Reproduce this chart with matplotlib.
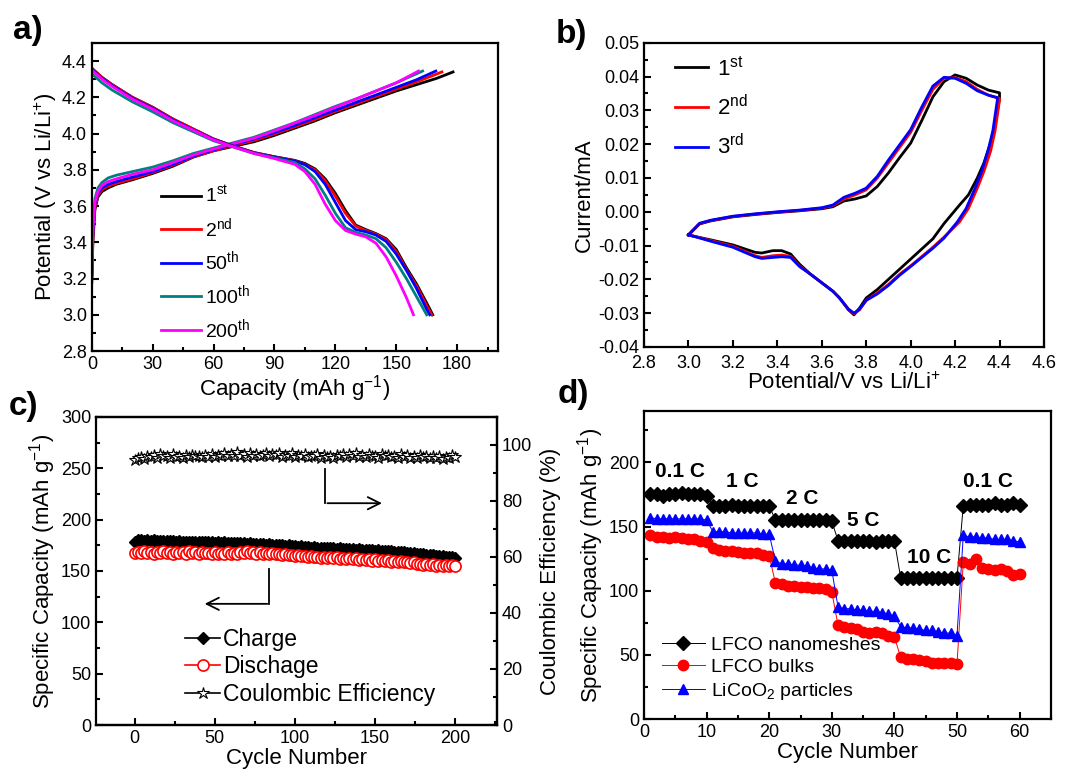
import numpy as np
import matplotlib
matplotlib.use("Agg")
import matplotlib.pyplot as plt
from matplotlib.ticker import MultipleLocator, FormatStrFormatter

plt.rcParams["font.family"] = ["Liberation Sans", "DejaVu Sans"]
plt.rcParams["mathtext.fontset"] = "custom"
plt.rcParams["mathtext.rm"] = "Liberation Sans"
plt.rcParams["mathtext.it"] = "Liberation Sans:italic"
plt.rcParams["mathtext.bf"] = "Liberation Sans:bold"
plt.rcParams["mathtext.default"] = "regular"

# ---------------- panel a: charge / discharge profiles ----------------
cycle_labels_a = [r"1$^{st}$", r"2$^{nd}$", r"50$^{th}$", r"100$^{th}$", r"200$^{th}$"]
colors_a = ["black", "red", "blue", "#008080", "magenta"]

chg_cap_1 = [0, 0.5, 1.5, 3, 5, 8, 12, 20, 30, 40, 50, 60, 70, 80, 90, 100, 110, 120, 130, 140, 150, 160, 170, 178]
chg_pot_1 = [3.18, 3.40, 3.58, 3.65, 3.68, 3.70, 3.72, 3.745, 3.78, 3.82, 3.87, 3.905, 3.93, 3.955, 3.99, 4.03, 4.07, 4.115, 4.155, 4.195, 4.235, 4.27, 4.305, 4.34]
chg_cap_2 = [0, 0.5, 1.5, 3, 5, 8, 12, 20, 30, 40, 50, 60, 70, 80, 90, 100, 110, 120, 130, 140, 150, 160, 172.5]
chg_pot_2 = [3.20, 3.42, 3.59, 3.66, 3.69, 3.71, 3.725, 3.75, 3.785, 3.825, 3.872, 3.905, 3.935, 3.962, 3.998, 4.037, 4.078, 4.122, 4.163, 4.204, 4.245, 4.285, 4.34]
chg_cap_50 = [0, 0.5, 1.5, 3, 5, 8, 12, 20, 30, 40, 50, 60, 70, 80, 90, 100, 110, 120, 130, 140, 150, 160, 169.5]
chg_pot_50 = [3.22, 3.45, 3.61, 3.67, 3.70, 3.72, 3.735, 3.76, 3.79, 3.83, 3.876, 3.91, 3.94, 3.97, 4.005, 4.045, 4.088, 4.13, 4.172, 4.213, 4.255, 4.297, 4.345]
chg_cap_100 = [0, 0.5, 1.5, 3, 5, 8, 12, 20, 30, 40, 50, 60, 70, 80, 90, 100, 110, 120, 130, 140, 150, 163]
chg_pot_100 = [3.26, 3.50, 3.64, 3.70, 3.73, 3.755, 3.77, 3.79, 3.815, 3.85, 3.89, 3.92, 3.95, 3.98, 4.02, 4.06, 4.105, 4.15, 4.19, 4.235, 4.28, 4.345]
chg_cap_200 = [0, 0.5, 1.5, 3, 5, 8, 12, 20, 30, 40, 50, 60, 70, 80, 90, 100, 110, 120, 130, 140, 150, 161]
chg_pot_200 = [3.24, 3.47, 3.62, 3.68, 3.715, 3.735, 3.75, 3.775, 3.80, 3.84, 3.882, 3.915, 3.945, 3.975, 4.015, 4.058, 4.10, 4.145, 4.19, 4.235, 4.28, 4.345]

dis_cap_1 = [0, 5, 10, 20, 30, 40, 50, 60, 70, 80, 90, 100, 105, 110, 115, 120, 125, 130, 135, 140, 145, 150, 155, 160, 165, 168]
dis_pot_1 = [4.36, 4.31, 4.27, 4.20, 4.145, 4.08, 4.025, 3.97, 3.93, 3.895, 3.872, 3.852, 3.835, 3.805, 3.75, 3.67, 3.575, 3.495, 3.47, 3.448, 3.42, 3.36, 3.26, 3.17, 3.065, 3.00]
dis_cap_2 = [0, 5, 10, 20, 30, 40, 50, 60, 70, 80, 90, 100, 105, 110, 115, 120, 125, 130, 135, 140, 145, 150, 155, 160, 165, 167.5]
dis_pot_2 = [4.36, 4.31, 4.27, 4.20, 4.145, 4.08, 4.025, 3.97, 3.93, 3.895, 3.872, 3.85, 3.83, 3.80, 3.74, 3.655, 3.56, 3.49, 3.465, 3.445, 3.415, 3.35, 3.25, 3.16, 3.05, 3.00]
dis_cap_50 = [0, 5, 10, 20, 30, 40, 50, 60, 70, 80, 90, 100, 105, 110, 115, 120, 125, 130, 135, 140, 145, 150, 155, 160, 165, 166.5]
dis_pot_50 = [4.355, 4.305, 4.265, 4.195, 4.14, 4.075, 4.02, 3.968, 3.928, 3.893, 3.87, 3.848, 3.828, 3.79, 3.72, 3.62, 3.52, 3.47, 3.458, 3.44, 3.405, 3.335, 3.245, 3.145, 3.03, 3.00]
dis_cap_100 = [0, 5, 10, 20, 30, 40, 50, 60, 70, 80, 90, 100, 105, 110, 115, 120, 125, 130, 135, 140, 145, 150, 155, 160, 165]
dis_pot_100 = [4.33, 4.28, 4.24, 4.175, 4.12, 4.06, 4.01, 3.96, 3.925, 3.89, 3.866, 3.84, 3.805, 3.75, 3.66, 3.56, 3.48, 3.455, 3.44, 3.42, 3.37, 3.29, 3.20, 3.10, 3.00]
dis_cap_200 = [0, 5, 10, 20, 30, 40, 50, 60, 70, 80, 90, 100, 105, 110, 115, 120, 125, 130, 135, 140, 145, 150, 155, 158.5]
dis_pot_200 = [4.35, 4.30, 4.26, 4.19, 4.135, 4.07, 4.018, 3.965, 3.925, 3.89, 3.862, 3.83, 3.79, 3.72, 3.61, 3.52, 3.465, 3.445, 3.43, 3.395, 3.32, 3.215, 3.095, 3.00]

charge_caps = [chg_cap_1, chg_cap_2, chg_cap_50, chg_cap_100, chg_cap_200]
charge_pots = [chg_pot_1, chg_pot_2, chg_pot_50, chg_pot_100, chg_pot_200]
dis_caps = [dis_cap_1, dis_cap_2, dis_cap_50, dis_cap_100, dis_cap_200]
dis_pots = [dis_pot_1, dis_pot_2, dis_pot_50, dis_pot_100, dis_pot_200]

# ---------------- panel b: cyclic voltammetry ----------------
cv_labels = [r"1$^{st}$", r"2$^{nd}$", r"3$^{rd}$"]
cv_colors = ["black", "red", "blue"]

cv_v_1 = [3.0, 3.05, 3.1, 3.2, 3.3, 3.4, 3.5, 3.6, 3.65, 3.7, 3.75, 3.8, 3.85, 3.9, 3.95, 4.0, 4.05, 4.1, 4.15, 4.2, 4.25, 4.3, 4.35, 4.4,
          4.4, 4.38, 4.36, 4.33, 4.3, 4.26, 4.22, 4.15, 4.1, 4.0, 3.95, 3.9, 3.85, 3.8, 3.77, 3.745, 3.72, 3.68, 3.65, 3.6, 3.55, 3.5, 3.46, 3.42, 3.38, 3.33, 3.3, 3.2, 3.1, 3.0]
cv_i_1 = [-0.0069, -0.0036, -0.0027, -0.0015, -0.0008, -0.0002, 0.0003, 0.0009, 0.0015, 0.0032, 0.0038, 0.0047, 0.0075, 0.0115, 0.016, 0.0203, 0.027, 0.034, 0.0385, 0.0405, 0.0395, 0.0375, 0.036, 0.0352,
          0.0335, 0.026, 0.0205, 0.0145, 0.0100, 0.0050, 0.0020, -0.0035, -0.0080, -0.0140, -0.0170, -0.0200, -0.0230, -0.0255, -0.0285, -0.0305, -0.0290, -0.0255, -0.0235, -0.0210, -0.0185, -0.0155, -0.0125, -0.0115, -0.0115, -0.0122, -0.0120, -0.0098, -0.0083, -0.0069]
cv_v_2 = [3.0, 3.05, 3.1, 3.2, 3.3, 3.4, 3.5, 3.6, 3.65, 3.7, 3.75, 3.8, 3.85, 3.9, 3.95, 4.0, 4.05, 4.1, 4.15, 4.2, 4.25, 4.3, 4.35, 4.4,
          4.4, 4.38, 4.36, 4.33, 4.3, 4.26, 4.22, 4.15, 4.1, 4.0, 3.95, 3.9, 3.85, 3.8, 3.77, 3.745, 3.72, 3.68, 3.65, 3.6, 3.55, 3.5, 3.46, 3.42, 3.38, 3.33, 3.3, 3.2, 3.1, 3.0]
cv_i_2 = [-0.0068, -0.0035, -0.0026, -0.0014, -0.0007, -0.0001, 0.0004, 0.0011, 0.0018, 0.0038, 0.0050, 0.0065, 0.0100, 0.0145, 0.0190, 0.0235, 0.0300, 0.0362, 0.0395, 0.0397, 0.0385, 0.0362, 0.0345, 0.0335,
          0.0330, 0.0240, 0.0180, 0.0120, 0.0070, 0.0010, -0.0030, -0.0075, -0.0105, -0.0160, -0.0185, -0.0215, -0.0240, -0.0262, -0.0290, -0.0302, -0.0288, -0.0255, -0.0235, -0.0210, -0.0185, -0.0160, -0.0132, -0.0128, -0.0130, -0.0135, -0.0130, -0.0102, -0.0085, -0.0068]
cv_v_3 = [3.0, 3.05, 3.1, 3.2, 3.3, 3.4, 3.5, 3.6, 3.65, 3.7, 3.75, 3.8, 3.85, 3.9, 3.95, 4.0, 4.05, 4.1, 4.15, 4.2, 4.25, 4.3, 4.35, 4.39,
          4.39, 4.37, 4.35, 4.32, 4.29, 4.25, 4.21, 4.15, 4.1, 4.0, 3.95, 3.9, 3.85, 3.8, 3.77, 3.745, 3.72, 3.68, 3.65, 3.6, 3.55, 3.5, 3.46, 3.42, 3.38, 3.33, 3.3, 3.2, 3.1, 3.0]
cv_i_3 = [-0.0068, -0.0034, -0.0025, -0.0013, -0.0006, 0.0000, 0.0005, 0.0012, 0.0020, 0.0043, 0.0055, 0.0070, 0.0105, 0.0153, 0.0198, 0.0243, 0.0310, 0.0372, 0.0398, 0.0395, 0.0380, 0.0358, 0.0345, 0.0338,
          0.0330, 0.0240, 0.0185, 0.0120, 0.0070, 0.0010, -0.0030, -0.0078, -0.0108, -0.0162, -0.0188, -0.0218, -0.0243, -0.0262, -0.0288, -0.0300, -0.0288, -0.0255, -0.0235, -0.0210, -0.0185, -0.0162, -0.0135, -0.0133, -0.0135, -0.0138, -0.0133, -0.0105, -0.0087, -0.0068]

cv_vs = [cv_v_1, cv_v_2, cv_v_3]
cv_is = [cv_i_1, cv_i_2, cv_i_3]

# ---------------- panel c: cycling ----------------
cycles_c = np.arange(0, 201, 2)
charge_c = [178.5, 180.2, 180.0, 179.6, 179.9, 179.4, 179.7, 179.2, 179.5, 179.0, 179.3, 178.8, 179.1, 178.6, 178.9, 178.4, 178.7, 178.2, 178.6, 178.1, 178.4,
            178.0, 178.3, 177.8, 178.1, 177.6, 178.0, 177.4, 177.9, 177.2, 177.6, 177.0, 177.3, 176.8, 177.1, 176.5, 176.8, 176.2, 176.5, 175.9, 176.2,
            175.6, 175.9, 175.3, 175.6, 175.0, 175.2, 174.6, 174.9, 174.2, 174.5, 173.8, 174.0, 173.4, 173.2, 172.8, 173.0, 172.5, 172.7, 172.2, 172.4,
            172.0, 172.3, 171.8, 172.0, 171.5, 171.7, 171.2, 171.4, 170.9, 171.0, 170.5, 170.7, 170.2, 170.3, 169.8, 170.0, 169.5, 169.6, 169.1, 169.2,
            168.7, 168.8, 168.3, 168.2, 167.8, 167.6, 167.2, 166.9, 166.5, 166.2, 165.8, 165.4, 165.1, 164.8, 164.5, 164.2, 164.0, 163.6, 163.3, 162.2]
discharge_c = [167.5, 168.8, 167.2, 169.0, 167.8, 168.5, 166.9, 168.7, 167.4, 169.1, 167.6, 168.2, 166.8, 168.9, 167.3, 168.4, 167.0, 169.2, 167.5, 168.0, 166.7,
               168.6, 167.1, 167.9, 166.5, 168.3, 166.9, 167.6, 166.2, 168.1, 166.8, 167.7, 166.4, 168.5, 167.2, 169.0, 167.6, 168.3, 167.0, 168.1, 166.6,
               167.8, 166.5, 167.4, 166.1, 167.0, 165.8, 166.6, 165.2, 166.0, 164.8, 165.4, 164.2, 164.9, 163.8, 164.5, 163.2, 164.1, 162.9, 163.6, 162.5,
               163.8, 162.2, 163.4, 161.9, 163.1, 161.5, 162.7, 161.2, 162.3, 160.8, 161.9, 160.6, 161.6, 160.2, 161.3, 159.8, 160.9, 159.6, 160.4, 159.2,
               160.0, 158.9, 159.5, 158.4, 159.0, 157.9, 158.3, 156.8, 157.2, 156.0, 156.8, 155.6, 156.5, 155.3, 156.1, 155.0, 155.8, 154.9, 155.4, 154.6]
ce_c = [94.6, 95.2, 95.8, 95.1, 96.0, 95.6, 96.4, 95.3, 96.8, 95.9, 96.2, 95.5, 96.6, 95.8, 96.1, 95.4, 96.3, 95.7, 96.5, 95.9, 96.0,
        95.6, 96.4, 95.8, 96.9, 95.7, 96.3, 96.0, 97.2, 95.9, 96.6, 96.1, 97.4, 96.0, 96.8, 95.8, 97.0, 96.2, 96.6, 95.9, 96.5,
        97.1, 96.0, 96.7, 96.3, 97.3, 95.8, 96.5, 96.1, 97.0, 95.7, 96.4, 96.0, 96.8, 95.6, 96.2, 95.9, 96.6, 95.5, 96.3, 95.8,
        96.0, 95.4, 96.5, 95.9, 96.9, 95.7, 96.6, 96.1, 97.0, 95.8, 96.4, 95.6, 96.7, 95.9, 96.2, 95.5, 96.8, 96.0, 96.3, 95.7,
        96.1, 95.4, 96.6, 95.8, 96.3, 95.5, 96.0, 95.3, 96.4, 95.6, 95.9, 95.2, 96.2, 95.5, 96.0, 95.1, 95.8, 95.4, 96.3, 95.6]

# ---------------- panel d: rate capability ----------------
cycles_d = np.arange(1, 61)
nanomesh_d = [175, 175, 174, 175, 175, 176, 175, 175, 175, 174,
              166, 166, 166, 167, 166, 166, 166, 166, 166, 166,
              155, 155, 155, 155, 155, 155, 155, 155, 155, 154,
              139, 139, 139, 139, 139, 139, 138, 139, 139, 139,
              110, 110, 110, 110, 110, 110, 110, 110, 110, 110,
              166, 167, 167, 167, 167, 168, 167, 167, 168, 167]
bulk_d = [143, 142, 142, 141, 142, 141, 140, 140, 139, 138,
          133, 132, 131, 131, 130, 129, 129, 129, 128, 127,
          106, 105, 104, 104, 103, 103, 102, 102, 101, 99,
          73, 72, 71, 70, 68, 67, 68, 67, 65, 64,
          48, 47, 47, 46, 45, 44, 44, 44, 44, 43,
          122, 121, 125, 118, 117, 116, 117, 115, 112, 113]
licoo2_d = [157, 156, 156, 156, 156, 156, 156, 156, 156, 155,
            146, 146, 146, 145, 145, 145, 145, 145, 144, 144,
            123, 121, 121, 120, 120, 119, 118, 117, 117, 116,
            87, 86, 86, 85, 85, 84, 84, 83, 82, 80,
            72, 71, 71, 70, 69, 69, 68, 67, 67, 65,
            143, 142, 142, 141, 141, 140, 140, 140, 139, 138]
rate_labels = ["0.1 C", "1 C", "2 C", "5 C", "10 C", "0.1 C"]
rate_x = [5.7, 15.7, 25.3, 35.1, 45.5, 55.0]
rate_y = [193, 185, 172, 155, 126, 185]

TICK_FS = 13
LABEL_FS = 16


def style_axes(ax):
    for s in ax.spines.values():
        s.set_linewidth(1.6)
    ax.tick_params(which="both", direction="in", width=1.5, labelsize=TICK_FS)
    ax.tick_params(which="major", length=5)
    ax.tick_params(which="minor", length=3)


fig = plt.figure(figsize=(10.68, 7.74), dpi=100)
axa = fig.add_axes([0.086, 0.5465, 0.380, 0.398])
axb = fig.add_axes([0.603, 0.5517, 0.3745, 0.393])
axc = fig.add_axes([0.0899, 0.0633, 0.3755, 0.398])
axd = fig.add_axes([0.603, 0.071, 0.381, 0.398])

# a)
for cap, pot, c in zip(charge_caps, charge_pots, colors_a):
    axa.plot(cap, pot, color=c, lw=2)
for cap, pot, c, lab in zip(dis_caps, dis_pots, colors_a, cycle_labels_a):
    axa.plot(cap, pot, color=c, lw=2, label=lab)
axa.set_xlim(0, 200)
axa.set_ylim(2.8, 4.5)
axa.xaxis.set_major_locator(MultipleLocator(30))
axa.xaxis.set_minor_locator(MultipleLocator(15))
axa.yaxis.set_major_locator(MultipleLocator(0.2))
axa.yaxis.set_minor_locator(MultipleLocator(0.1))
axa.yaxis.set_major_formatter(FormatStrFormatter("%.1f"))
axa.set_xlabel(r"Capacity (mAh g$^{-1}$)", fontsize=LABEL_FS, labelpad=0)
axa.set_ylabel(r"Potential (V vs Li/Li$^{+}$)", fontsize=LABEL_FS, labelpad=2)
style_axes(axa)
axa.legend(loc="upper left", bbox_to_anchor=(0.15, 0.565), frameon=False, fontsize=14,
           handlelength=2.1, handletextpad=0.2, labelspacing=0.5, borderaxespad=0)

# b)
for v, i, c, lab in zip(cv_vs, cv_is, cv_colors, cv_labels):
    axb.plot(v, i, color=c, lw=2, label=lab)
axb.set_xlim(2.8, 4.6)
axb.set_ylim(-0.04, 0.05)
axb.xaxis.set_major_locator(MultipleLocator(0.2))
axb.yaxis.set_major_locator(MultipleLocator(0.01))
axb.yaxis.set_minor_locator(MultipleLocator(0.005))
axb.xaxis.set_major_formatter(FormatStrFormatter("%.1f"))
axb.yaxis.set_major_formatter(FormatStrFormatter("%.2f"))
axb.set_xlabel(r"Potential/V vs Li/Li$^{+}$", fontsize=LABEL_FS, labelpad=0)
axb.set_ylabel("Current/mA", fontsize=LABEL_FS, labelpad=2)
style_axes(axb)
axb.tick_params(axis="x", pad=6)
axb.legend(loc="upper left", bbox_to_anchor=(0.055, 0.985), frameon=False, fontsize=16,
           handlelength=1.5, handletextpad=0.4, labelspacing=0.65, borderaxespad=0)

# c)
axc2 = axc.twinx()
hc1, = axc.plot(cycles_c, charge_c, color="black", lw=1.2, marker="D", ms=6.5, mfc="black", mec="black")
hc2, = axc.plot(cycles_c, discharge_c, color="red", lw=1.2, marker="o", ms=8, mfc="white", mec="red", mew=1.2)
hc3, = axc2.plot(cycles_c, ce_c, color="black", lw=1.2, marker="*", ms=9, mfc="white", mec="black", mew=0.8)
axc.set_xlim(-24, 226)
axc.set_ylim(0, 300)
axc2.set_ylim(0, 110)
axc.xaxis.set_major_locator(MultipleLocator(50))
axc.xaxis.set_minor_locator(MultipleLocator(25))
axc.yaxis.set_major_locator(MultipleLocator(50))
axc.yaxis.set_minor_locator(MultipleLocator(25))
axc2.yaxis.set_major_locator(MultipleLocator(20))
axc2.yaxis.set_minor_locator(MultipleLocator(10))
axc.set_xlabel("Cycle Number", fontsize=LABEL_FS, labelpad=1)
axc.set_ylabel(r"Specific Capacity (mAh g$^{-1}$)", fontsize=LABEL_FS, labelpad=2)
axc2.set_ylabel("Coulombic Efficiency (%)", fontsize=LABEL_FS, labelpad=6)
style_axes(axc)
style_axes(axc2)
axc2.spines["left"].set_visible(False)
# arrows pointing to the matching axis
axc.plot([119, 119], [249, 216], color="black", lw=1.3)
axc.annotate("", xy=(156, 216), xytext=(118.5, 216),
             arrowprops=dict(arrowstyle="->", lw=1.3, color="black", mutation_scale=22))
axc.plot([84, 84], [152, 118], color="black", lw=1.3)
axc.annotate("", xy=(42, 118), xytext=(84.5, 118),
             arrowprops=dict(arrowstyle="->", lw=1.3, color="black", mutation_scale=22))
axc.legend([hc1, hc2, hc3], ["Charge", "Dischage", "Coulombic Efficiency"],
           loc="upper left", bbox_to_anchor=(0.2, 0.345), frameon=False, fontsize=16.5,
           handlelength=1.5, handletextpad=0.15, labelspacing=0.2, borderaxespad=0)

# d)
axd.plot(cycles_d, nanomesh_d, color="black", lw=0.7, marker="D", ms=7, label="LFCO nanomeshes")
axd.plot(cycles_d, bulk_d, color="red", lw=0.7, marker="o", ms=7.5, label="LFCO bulks")
axd.plot(cycles_d, licoo2_d, color="blue", lw=0.7, marker="^", ms=7.5, label=r"LiCoO$_2$ particles")
for txt, x, y in zip(rate_labels, rate_x, rate_y):
    axd.text(x, y, txt, ha="center", va="center", fontsize=15, fontweight="bold")
axd.set_xlim(0, 65)
axd.set_ylim(0, 240)
axd.xaxis.set_major_locator(MultipleLocator(10))
axd.xaxis.set_minor_locator(MultipleLocator(5))
axd.yaxis.set_major_locator(MultipleLocator(50))
axd.yaxis.set_minor_locator(MultipleLocator(25))
axd.set_yticks([0, 50, 100, 150, 200])
axd.set_xlabel("Cycle Number", fontsize=LABEL_FS, labelpad=1)
axd.set_ylabel(r"Specific Capacity (mAh g$^{-1}$)", fontsize=LABEL_FS, labelpad=2)
style_axes(axd)
axd.legend(loc="upper left", bbox_to_anchor=(0.025, 0.295), frameon=False, fontsize=14,
           handlelength=2.2, handletextpad=0.3, labelspacing=0.25, borderaxespad=0)

for txt, x, y in [("a)", 0.012, 0.96), ("b)", 0.52, 0.955), ("c)", 0.008, 0.475), ("d)", 0.522, 0.49)]:
    fig.text(x, y, txt, fontsize=24, fontweight="bold", va="center", ha="left")

fig.savefig("out.png", dpi=100)
